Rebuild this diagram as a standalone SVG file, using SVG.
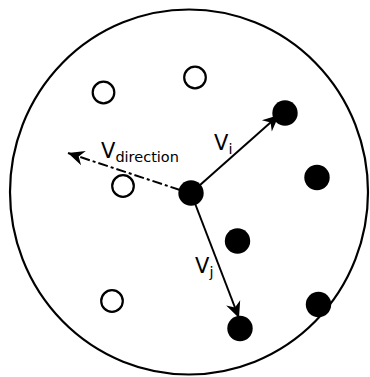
<svg xmlns="http://www.w3.org/2000/svg" width="370" height="377" viewBox="0 0 370 377">
<style>
.open{fill:#fff;stroke:#000;stroke-width:2.2}
.fill{fill:#000;stroke:none}
.conn{stroke:#000;stroke-width:2;fill:none}
.lbl{font-family:"DejaVu Sans",sans-serif;fill:#000}
</style>
<defs>
<marker id="ah" markerUnits="userSpaceOnUse" markerWidth="20" markerHeight="20" viewBox="-14 -8 16 16" refX="0" refY="0" orient="auto">
<path d="M0,0 L-13,-6 L-9,0 L-13,6 Z" fill="#000"/>
</marker>
</defs>
<rect width="370" height="377" fill="#fff"/>
<g id="boundary"><ellipse cx="189" cy="192" rx="179" ry="182.5" fill="none" stroke="#000" stroke-width="2.2"/></g>
<g id="connectors">
<line class="conn" x1="191" y1="193" x2="279" y2="115" marker-end="url(#ah)"/>
<line class="conn" x1="191" y1="193" x2="239" y2="318" marker-end="url(#ah)"/>
<line class="conn" x1="180" y1="190" x2="68" y2="153" stroke-width="2.8" stroke-dasharray="10,3,3,3" marker-end="url(#ah)"/>
</g>
<g id="n1"><circle class="open" cx="103.5" cy="92.5" r="10.8"/></g>
<g id="n2"><circle class="open" cx="195" cy="77.5" r="10.8"/></g>
<g id="n3"><circle class="open" cx="123" cy="186" r="10.8"/></g>
<g id="n4"><circle class="open" cx="112" cy="301" r="10.8"/></g>
<g id="n5"><circle class="fill" cx="285" cy="113" r="12.7"/></g>
<g id="n6"><circle class="fill" cx="317" cy="177.5" r="12.7"/></g>
<g id="center"><circle class="fill" cx="191" cy="193" r="12.7"/></g>
<g id="n7"><circle class="fill" cx="237.5" cy="241" r="12.7"/></g>
<g id="n8"><circle class="fill" cx="318.5" cy="304.5" r="12.7"/></g>
<g id="n9"><circle class="fill" cx="240" cy="328.5" r="12.7"/></g>
<g id="labels">
<text class="lbl" x="101" y="158" font-size="21">V<tspan font-size="14.5" dy="4">direction</tspan></text>
<text class="lbl" x="214" y="150" font-size="21">V<tspan font-size="14.5" dy="4">i</tspan></text>
<text class="lbl" x="195" y="273" font-size="21">V<tspan font-size="14.5" dy="4">j</tspan></text>
</g>
</svg>
